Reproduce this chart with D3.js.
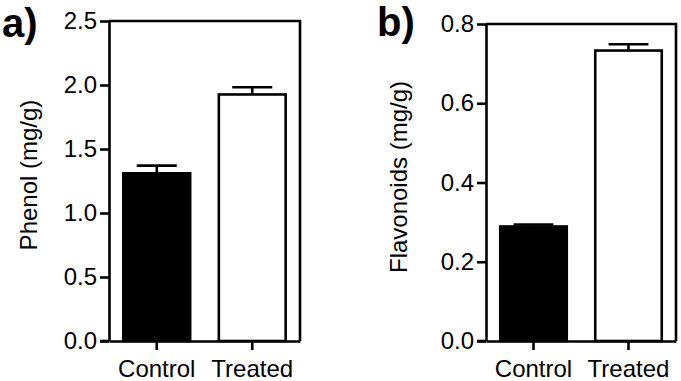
<!DOCTYPE html>
<html>
<head>
<meta charset="utf-8">
<script src="https://cdn.jsdelivr.net/npm/d3@7"></script>
<style>
  html, body { margin: 0; padding: 0; background: #fff; }
  svg { display: block; }
  text { font-family: "Liberation Sans", Arial, Helvetica, sans-serif; fill: #000; }
</style>
</head>
<body>
<svg id="chart" width="681" height="381"></svg>
<script>
// ---- data ----
const categories = ["Control", "Treated"];
const phenolValues = [1.31, 1.926];
const phenolErrors = [0.06, 0.056];
const flavonoidValues = [0.289, 0.733];
const flavonoidErrors = [0.005, 0.016];
const phenolTicks = [0, 0.5, 1.0, 1.5, 2.0, 2.5];
const flavonoidTicks = [0, 0.2, 0.4, 0.6, 0.8];
const barFills = ["#000", "#fff"];

const svg = d3.select("#chart");

function panel(opts) {
  const { left, right, top, bottom, yMax, ticks, values, errors, yLabel, yLabelX, yLabelY, letter, letterX, letterY } = opts;
  const g = svg.append("g");
  const x = d3.scaleBand().domain(categories).range([left, right]).paddingInner(0.3).paddingOuter(0.15);
  const y = d3.scaleLinear().domain([0, yMax]).range([bottom, top]);
  const sw = 2.6;

  // bars
  g.selectAll("rect.bar").data(categories).join("rect")
    .attr("x", d => x(d))
    .attr("y", (d, i) => y(values[i]))
    .attr("width", x.bandwidth())
    .attr("height", (d, i) => y(0) - y(values[i]))
    .attr("fill", (d, i) => barFills[i])
    .attr("stroke", "#000")
    .attr("stroke-width", sw);

  // error bars (upper only)
  const capW = x.bandwidth() * 0.56;
  categories.forEach((c, i) => {
    const cx = x(c) + x.bandwidth() / 2;
    g.append("line").attr("x1", cx).attr("x2", cx)
      .attr("y1", y(values[i])).attr("y2", y(values[i] + errors[i]))
      .attr("stroke", "#000").attr("stroke-width", sw);
    g.append("line").attr("x1", cx - capW / 2).attr("x2", cx + capW / 2)
      .attr("y1", y(values[i] + errors[i])).attr("y2", y(values[i] + errors[i]))
      .attr("stroke", "#000").attr("stroke-width", sw).attr("stroke-linecap", "square");
  });

  // frame (top and right)
  g.append("path")
    .attr("d", `M${left},${top}H${right}V${bottom}`)
    .attr("fill", "none").attr("stroke", "#000").attr("stroke-width", sw);

  // y axis
  const yAxis = g.append("g").attr("transform", `translate(${left},0)`)
    .call(d3.axisLeft(y).tickValues(ticks).tickFormat(d3.format(".1f")).tickSize(9).tickPadding(3).tickSizeOuter(0));
  // x axis
  const xAxis = g.append("g").attr("transform", `translate(0,${bottom})`)
    .call(d3.axisBottom(x).tickSize(9).tickPadding(10).tickSizeOuter(0));
  [yAxis, xAxis].forEach(a => {
    a.select(".domain").attr("stroke", "#000").attr("stroke-width", sw);
    a.selectAll(".tick line").attr("stroke", "#000").attr("stroke-width", sw);
    a.selectAll("text").style("font-size", "24px").attr("fill", "#000");
  });
  // extend bottom line to the left to meet 0.0 tick
  g.append("line").attr("x1", left - 9).attr("x2", left)
    .attr("y1", bottom).attr("y2", bottom).attr("stroke", "#000").attr("stroke-width", sw);

  // y label
  g.append("text")
    .attr("transform", `translate(${yLabelX},${yLabelY}) rotate(-90)`)
    .attr("text-anchor", "middle")
    .style("font-size", "24px")
    .text(yLabel);

  // panel letter
  g.append("text")
    .attr("x", letterX).attr("y", letterY)
    .style("font-size", "40px").style("font-weight", "bold")
    .text(letter);
}

panel({ left: 109, right: 300, top: 21, bottom: 341, yMax: 2.5, ticks: phenolTicks,
  values: phenolValues, errors: phenolErrors, yLabel: "Phenol (mg/g)",
  yLabelX: 37, yLabelY: 175, letter: "a)", letterX: 2, letterY: 37 });

panel({ left: 486, right: 676, top: 24, bottom: 341, yMax: 0.8, ticks: flavonoidTicks,
  values: flavonoidValues, errors: flavonoidErrors, yLabel: "Flavonoids (mg/g)",
  yLabelX: 407, yLabelY: 177, letter: "b)", letterX: 377, letterY: 36 });
</script>
</body>
</html>
